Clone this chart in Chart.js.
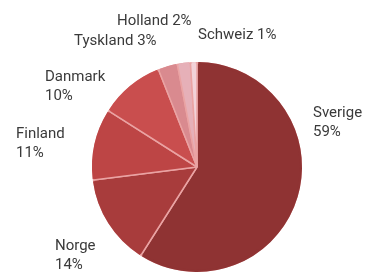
<!DOCTYPE html>
<html>
<head>
<meta charset="utf-8">
<script src="https://cdn.jsdelivr.net/npm/chart.js@4"></script>
<style>
  html, body { margin: 0; padding: 0; background: #fff; }
  #wrap { width: 366px; height: 273px; }
</style>
</head>
<body>
<div id="wrap"><canvas id="kaka" width="366" height="273"></canvas></div>
<script>
// Länder och andelar (%), medurs från klockan 12
const lander = ['Sverige', 'Norge', 'Finland', 'Danmark', 'Tyskland', 'Holland', 'Schweiz'];
const andelar = [59, 14, 11, 10, 3, 2, 1];
const farger = ['#8f3333', '#a83c3c', '#bd4545', '#c94e4e', '#d98a8f', '#e6b0b8', '#f2d2d8'];

// Var etiketterna står (vänsterkant, mitt i y), en rad eller två
const etikettPos = [
  { x: 313, y: 113, tvaRader: true },  // Sverige
  { x: 55, y: 246, tvaRader: true },   // Norge
  { x: 16, y: 134, tvaRader: true },   // Finland
  { x: 45, y: 77, tvaRader: true },    // Danmark
  { x: 74, y: 41, tvaRader: false },   // Tyskland
  { x: 117, y: 21, tvaRader: false },  // Holland
  { x: 198, y: 35, tvaRader: false }   // Schweiz
];

// ytterkanten ska ha tårtbitens egen färg, inte den ljusa skiljelinjen
const ytterkant = {
  id: 'ytterkant',
  afterDatasetsDraw(chart) {
    const ctx = chart.ctx;
    const meta = chart.getDatasetMeta(0);
    ctx.save();
    ctx.lineWidth = 2.5;
    meta.data.forEach((arc, i) => {
      ctx.strokeStyle = farger[i];
      ctx.beginPath();
      ctx.arc(arc.x, arc.y, arc.outerRadius - 0.5, arc.startAngle + 0.012, arc.endAngle - 0.012);
      ctx.stroke();
    });
    ctx.restore();
  }
};

const etiketter = {
  id: 'etiketter',
  afterDraw(chart) {
    const ctx = chart.ctx;
    ctx.save();
    ctx.font = '15px Roboto';
    ctx.fillStyle = '#3a3a3a';
    ctx.textAlign = 'left';
    ctx.textBaseline = 'middle';
    lander.forEach((namn, i) => {
      const p = etikettPos[i];
      if (p.tvaRader) {
        ctx.fillText(namn, p.x, p.y);
        ctx.fillText(andelar[i] + '%', p.x, p.y + 19);
      } else {
        ctx.fillText(namn + ' ' + andelar[i] + '%', p.x, p.y);
      }
    });
    ctx.restore();
  }
};

new Chart(document.getElementById('kaka'), {
  type: 'pie',
  data: {
    labels: lander,
    datasets: [{
      data: andelar,
      backgroundColor: farger,
      borderColor: '#eaa3a3',
      borderWidth: 1.5
    }]
  },
  options: {
    responsive: false,
    animation: false,
    layout: { padding: { left: 92, right: 64, top: 62, bottom: 1 } },
    plugins: {
      legend: { display: false },
      tooltip: { enabled: false }
    }
  },
  plugins: [ytterkant, etiketter]
});
</script>
</body>
</html>
